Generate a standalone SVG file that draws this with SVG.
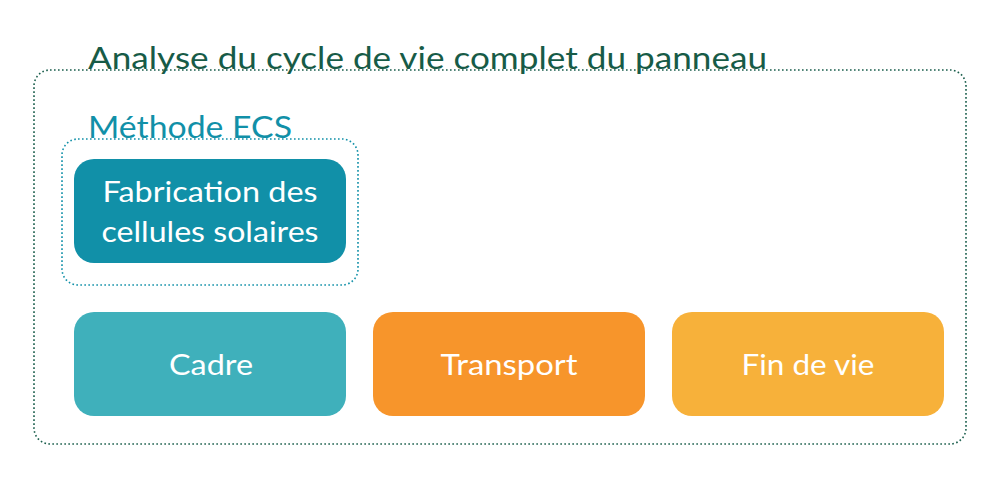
<svg xmlns="http://www.w3.org/2000/svg" width="1000" height="500" viewBox="0 0 1000 500">
<style>
.grp{fill:none;stroke-width:1.6;stroke-dasharray:1.6 2.4;stroke-linecap:butt}
.node text{font-family:Lato,"Open Sans",sans-serif;font-size:29px;fill:#ffffff;text-anchor:middle}
.label{font-family:Lato,"Open Sans",sans-serif}
</style>
<rect width="1000" height="500" fill="#ffffff"/>
<g id="group-outer">
<rect class="grp" x="34" y="70" width="932" height="374" rx="16" stroke="#1a5e4c"/>
<text class="label" x="88" y="69" font-size="30" fill="#175b47" textLength="679" lengthAdjust="spacingAndGlyphs">Analyse du cycle de vie complet du panneau</text>
</g>
<g id="group-ecs">
<rect class="grp" x="62" y="139" width="296" height="146" rx="16" stroke="#1190a8"/>
<text class="label" x="88" y="138" font-size="30" fill="#1190a8" textLength="204" lengthAdjust="spacingAndGlyphs">Méthode ECS</text>
</g>
<g id="node-fabrication" class="node">
<rect x="74" y="159" width="272" height="104" rx="20" fill="#1190a8"/>
<text x="210" y="202" textLength="215" lengthAdjust="spacingAndGlyphs">Fabrication des</text>
<text x="210" y="242" textLength="217" lengthAdjust="spacingAndGlyphs">cellules solaires</text>
</g>
<g id="node-cadre" class="node">
<rect x="74" y="312" width="272" height="104" rx="20" fill="#3fb0bb"/>
<text x="211" y="375" textLength="84" lengthAdjust="spacingAndGlyphs">Cadre</text>
</g>
<g id="node-transport" class="node">
<rect x="373" y="312" width="272" height="104" rx="20" fill="#f7952b"/>
<text x="509" y="375" textLength="137" lengthAdjust="spacingAndGlyphs">Transport</text>
</g>
<g id="node-findevie" class="node">
<rect x="672" y="312" width="272" height="104" rx="20" fill="#f7b13a"/>
<text x="808" y="375" textLength="133" lengthAdjust="spacingAndGlyphs">Fin de vie</text>
</g>
<g id="connectors"></g>
</svg>
